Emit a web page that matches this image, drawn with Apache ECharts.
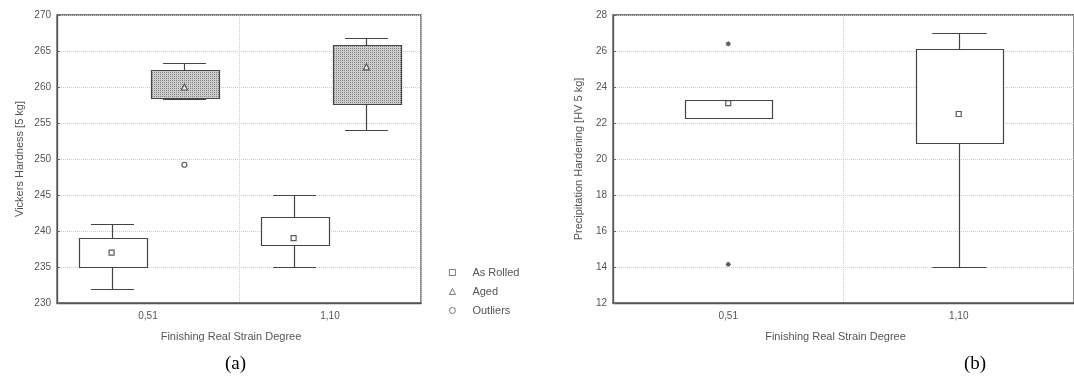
<!DOCTYPE html>
<html>
<head>
<meta charset="utf-8">
<script src="https://cdn.jsdelivr.net/npm/echarts@6/dist/echarts.min.js"></script>
<style>
    html, body { margin: 0; padding: 0; background: #fff; }
    #chart { width: 1074px; height: 382px; }
</style>
</head>
<body>
<div id="chart"></div>
<script>
// categories (finishing real strain degree)
const categories = ['0,51', '1,10']

// (a) Vickers hardness: [min, q1, q3, max] per category
const rolledBox = [[232, 235, 239, 241], [235, 238, 242, 245]]
const rolledMean = [237, 239]
const agedBox = [[258.3, 258.5, 262.3, 263.3], [254, 257.6, 265.9, 266.8]]
const agedMean = [260, 262.8]
const agedOutliers = [[0, 249.2]]

// (b) precipitation hardening: [min, q1, q3, max]
const hardBox = [[22.3, 22.3, 23.3, 23.3], [14, 20.9, 26.1, 27]]
const hardMean = [23.1, 22.5]
const hardOutliers = [[0, 26.4], [0, 14.15]]

// axis ticks
const hvTicks = { min: 230, max: 270, interval: 5 }
const phTicks = { min: 12, max: 28, interval: 2 }

const gridA = { left: 57, top: 15, width: 364, height: 288 }
const gridB = { left: 613, top: 15, width: 467, height: 288 }

const lineColor = '#444'
const textColor = '#555'
const font = 'Liberation Sans, Arial, sans-serif'

// dotted grey fill for the aged boxes
const pat = document.createElement('canvas')
pat.width = 2
pat.height = 2
const pctx = pat.getContext('2d')
pctx.fillStyle = '#cdcdcd'
pctx.fillRect(0, 0, 2, 2)
pctx.fillStyle = '#858585'
pctx.fillRect(0, 0, 1, 1)

const toRows = (boxes) => boxes.map((b, i) => [i].concat(b))

// box + whiskers drawn through the axis scales
const boxRenderer = (offsetFrac, widthFrac, capFrac, fill) => (params, api) => {
    const idx = api.value(0)
    const band = api.size([1, 0])[0]
    const cx = Math.round(api.coord([idx, 0])[0] + offsetFrac * band) + 0.5
    const y = (k) => Math.round(api.coord([idx, api.value(k)])[1]) + 0.5
    const yMin = y(1), yQ1 = y(2), yQ3 = y(3), yMax = y(4)
    const bw = Math.round(widthFrac * band)
    const cw = capFrac * band
    const st = { stroke: lineColor, lineWidth: 1.2 }
    return {
        type: 'group',
        children: [
            { type: 'line', shape: { x1: cx, y1: yMax, x2: cx, y2: yQ3 }, style: st },
            { type: 'line', shape: { x1: cx, y1: yQ1, x2: cx, y2: yMin }, style: st },
            { type: 'line', shape: { x1: cx - cw / 2, y1: yMax, x2: cx + cw / 2, y2: yMax }, style: st },
            { type: 'line', shape: { x1: cx - cw / 2, y1: yMin, x2: cx + cw / 2, y2: yMin }, style: st },
            {
                type: 'rect',
                shape: { x: Math.round(cx - bw / 2) + 0.5, y: yQ3, width: bw, height: yQ1 - yQ3 },
                style: { fill: fill, stroke: lineColor, lineWidth: 1.2 }
            }
        ]
    }
}

const offA = 0.2 * gridA.width / categories.length

const markStyle = { color: '#fff', borderColor: '#333', borderWidth: 1.2 }
const asterisk = 'path://M0,5L10,5M5,0L5,10M1.5,1.5L8.5,8.5M8.5,1.5L1.5,8.5'

const xAxisBase = (gridIndex) => ({
    type: 'category',
    gridIndex: gridIndex,
    data: categories,
    name: 'Finishing Real Strain Degree',
    nameLocation: 'middle',
    nameGap: 28,
    nameTextStyle: { color: textColor, fontSize: 11, fontFamily: font, padding: [0, 16, 0, 0] },
    axisLine: { lineStyle: { color: '#555', width: 1.3 } },
    axisTick: { show: false },
    axisLabel: { color: textColor, fontSize: 10, fontFamily: font, margin: 8 },
    splitLine: { show: true, lineStyle: { color: '#ccc', type: 'dotted' } }
})

const yAxisBase = (gridIndex, ticks, name, gap) => ({
    type: 'value',
    gridIndex: gridIndex,
    min: ticks.min,
    max: ticks.max,
    interval: ticks.interval,
    name: name,
    nameLocation: 'middle',
    nameGap: gap,
    nameTextStyle: { color: textColor, fontSize: 11, fontFamily: font },
    axisLine: { show: true, lineStyle: { color: '#555', width: 1.3 } },
    axisTick: { show: true, inside: true, length: 3, lineStyle: { color: '#666' } },
    axisLabel: { color: textColor, fontSize: 10, fontFamily: font, margin: 6 },
    splitLine: { show: true, lineStyle: { color: '#ccc', type: 'dotted' } }
})

const chart = echarts.init(document.getElementById('chart'))
chart.setOption({
    backgroundColor: '#fff',
    animation: false,
    grid: [
        Object.assign({ show: true, borderColor: '#555', borderWidth: 1.3 }, gridA),
        Object.assign({ show: true, borderColor: '#555', borderWidth: 1.3 }, gridB)
    ],
    xAxis: [xAxisBase(0), xAxisBase(1)],
    yAxis: [
        yAxisBase(0, hvTicks, 'Vickers Hardness [5 kg]', 32),
        yAxisBase(1, phTicks, 'Precipitation Hardening [HV 5 kg]', 29)
    ],
    legend: {
        data: ['As Rolled', 'Aged', 'Outliers'],
        orient: 'vertical',
        left: 449,
        top: 263,
        padding: 0,
        itemWidth: 6,
        itemHeight: 6,
        itemGap: 0,
        itemStyle: { borderWidth: 0.8 },
        textStyle: { color: textColor, fontSize: 11, fontFamily: font, lineHeight: 19, padding: [0, 0, 0, 12] }
    },
    graphic: [
        { type: 'text', left: 225, top: 355, style: { text: '(a)', font: '19px "Liberation Serif", "Times New Roman", serif', fill: '#000' } },
        { type: 'text', left: 964, top: 355, style: { text: '(b)', font: '19px "Liberation Serif", "Times New Roman", serif', fill: '#000' } }
    ],
    series: [
        {
            name: 'rolledBox', type: 'custom', xAxisIndex: 0, yAxisIndex: 0,
            renderItem: boxRenderer(-0.2, 0.374, 0.236, '#fff'),
            encode: { x: 0, y: [1, 2, 3, 4] },
            data: toRows(rolledBox), z: 3
        },
        {
            name: 'agedBox', type: 'custom', xAxisIndex: 0, yAxisIndex: 0,
            renderItem: boxRenderer(0.2, 0.374, 0.236, { image: pat, repeat: 'repeat' }),
            encode: { x: 0, y: [1, 2, 3, 4] },
            data: toRows(agedBox), z: 3
        },
        {
            name: 'As Rolled', type: 'scatter', xAxisIndex: 0, yAxisIndex: 0,
            symbol: 'rect', symbolSize: 5, symbolOffset: [-offA, 0],
            itemStyle: markStyle, z: 5,
            data: rolledMean.map((v, i) => [i, v])
        },
        {
            name: 'Aged', type: 'scatter', xAxisIndex: 0, yAxisIndex: 0,
            symbol: 'triangle', symbolSize: 6, symbolOffset: [offA, 0],
            itemStyle: markStyle, z: 5,
            data: agedMean.map((v, i) => [i, v])
        },
        {
            name: 'Outliers', type: 'scatter', xAxisIndex: 0, yAxisIndex: 0,
            symbol: 'circle', symbolSize: 5, symbolOffset: [offA, 0],
            itemStyle: markStyle, z: 5,
            data: agedOutliers
        },
        {
            name: 'hardBox', type: 'custom', xAxisIndex: 1, yAxisIndex: 1,
            renderItem: boxRenderer(0, 0.378, 0.236, '#fff'),
            encode: { x: 0, y: [1, 2, 3, 4] },
            data: toRows(hardBox), z: 3
        },
        {
            name: 'hardMean', type: 'scatter', xAxisIndex: 1, yAxisIndex: 1,
            symbol: 'rect', symbolSize: 5,
            itemStyle: markStyle, z: 5,
            data: hardMean.map((v, i) => [i, v])
        },
        {
            name: 'hardOutliers', type: 'scatter', xAxisIndex: 1, yAxisIndex: 1,
            symbol: asterisk, symbolSize: 5,
            itemStyle: { color: 'none', borderColor: '#333', borderWidth: 1.2 }, z: 5,
            data: hardOutliers
        }
    ]
})
</script>
</body>
</html>
